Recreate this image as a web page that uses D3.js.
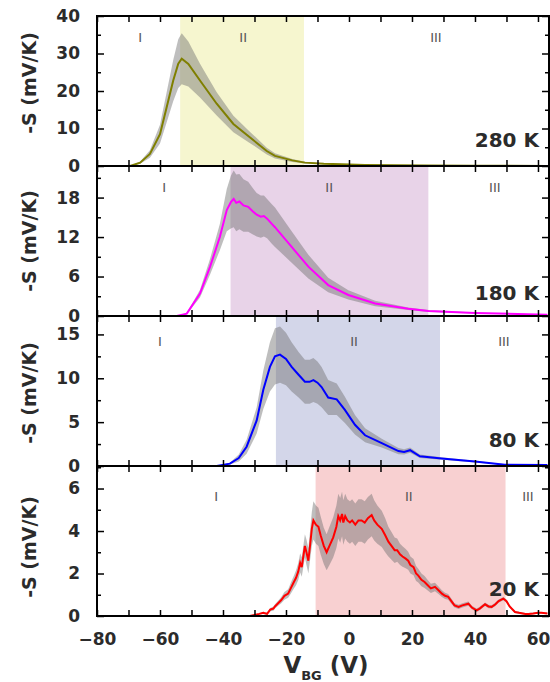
<!DOCTYPE html>
<html>
<head>
<meta charset="utf-8">
<script src="https://cdn.jsdelivr.net/npm/d3@7"></script>
<style>
body { margin: 0; background: #fff; }
text { font-family: "DejaVu Sans", sans-serif; }
</style>
</head>
<body>
<svg width="550" height="682"></svg>
<script>
// ---- data ----
var temps = ["280 K", "180 K", "80 K", "20 K"];
var xTickLabels = [-80, -60, -40, -20, 0, 20, 40, 60];
var yMax = [40, 22.8, 17.1, 7.06];
var yMajor = [[0, 10, 20, 30, 40], [0, 6, 12, 18], [0, 5, 10, 15], [0, 2, 4, 6]];
var yMinorStep = [5, 3, 2.5, 1];
var regionII = [[-53.6, -14.3], [-37.6, 25.2], [-23.2, 28.9], [-10.6, 49.7]];
// V positions of region labels I, II, III
var regionLabelV = [[-66.3, -33.6, 27.6], [-58.7, -6.3, 46.3], [-60, 1.6, 49.2], [-42.2, 19, 56.8]];

var v280 = [-69.5,-66.3,-63.2,-60,-57.9,-55.8,-54.2,-53.1,-51,-47.3,-42,-36.7,-31.4,-26.1,-23.5,-18,-14,-8,-2.3,5,15,25,40,63];
var s280 = [0,0.9,3.2,8.5,15.6,22.8,27.3,28.6,27.2,22.8,16.6,11.2,7.6,4.0,2.7,1.5,0.9,0.6,0.45,0.3,0.2,0.12,0.05,0.02];
var e280 = [0,0.3,1.0,2.5,4.0,5.5,6.5,6.8,6.0,4.5,3.1,2.2,1.5,0.9,0.7,0.4,0.25,0.15,0.1,0.08,0.05,0.03,0.01,0];

var v180 = [-54.7,-51.5,-47.3,-44.1,-41,-38.8,-37.5,-36.6,-35.8,-34.8,-33.5,-32,-30.5,-29.3,-28,-27,-26,-24.5,-23.5,-18.2,-12.9,-6.6,-0.2,8.3,18.8,25.2,40,63];
var s180 = [0,0.36,3.4,7.5,12,16.1,17.3,17.8,17.2,17.4,16.8,16.6,15.9,15.4,15.1,15.2,14.8,14.0,13.5,10.5,7.5,4.7,3.2,1.9,1.1,0.76,0.45,0.2];
var e180 = [0,0.1,0.6,1.2,2.0,3.2,4.0,4.3,4.3,4.2,4.0,3.8,3.5,3.3,3.2,3.1,3.0,3.0,3.0,2.4,1.8,1.1,0.7,0.4,0.2,0.15,0.08,0.03];

var v80 = [-42,-37.8,-35,-32.5,-29.3,-27.2,-25.1,-23.5,-21.9,-20,-18.2,-16,-14,-12.5,-11.3,-10,-8.7,-6.6,-3.9,-1.3,1.9,5.1,10.4,15.7,17.5,19.4,22.5,29.4,40,49.5,63];
var s80 = [0,0.27,0.9,2.2,5.2,8.7,11.3,12.5,12.7,12.2,11.3,10.4,9.6,9.6,9.8,9.5,9.0,7.8,7.6,6.4,4.7,3.5,2.6,1.7,1.6,1.8,1.1,0.85,0.5,0.15,0.1];
var e80 = [0,0.1,0.4,0.8,1.5,2.2,2.8,3.2,3.2,3.0,2.8,2.6,2.5,2.5,2.5,2.4,2.3,2.0,1.8,1.5,1.1,0.8,0.5,0.35,0.3,0.3,0.2,0.15,0.1,0.05,0];

var v20 = [-31.5,-30,-28.5,-27.2,-26,-25,-24,-23.5,-22.5,-21.5,
  -20.5,-19.3,-18.5,-17.5,-16.8,-16.1,-15.5,-15,-14.5,-14,
  -13.5,-12.9,-12.3,-11.8,-11.3,-10.5,-9.7,-9,-8,-7.1,
  -6.2,-5,-4,-3.4,-2.8,-2.2,-1.8,-1.2,-0.5,0.3,
  1,2,3,4,5,6,7.2,8,9,10.4,
  11.5,12.5,13.5,14.5,15.3,16.2,17,18,18.8,19.5,
  20.5,21.3,22,23,24,25,26,27.3,28.5,29.5,
  30.5,31.5,32.5,33.5,34.8,36,37.9,39,40.5,41.5,
  43.2,44.3,45.3,46.5,47.5,49,50,51,52.7,54,
  56,57,58.5,60,61.1,63];
var s20 = [0,0.05,0.1,0.15,0.1,0.3,0.35,0.45,0.6,0.75,
  0.95,1.06,1.3,1.6,1.8,2.1,2.5,2.3,2.8,3.3,
  3.0,2.6,3.4,4.1,4.5,4.3,4.2,3.8,3.3,3.0,
  3.3,3.7,4.2,4.7,4.5,4.8,4.4,4.7,4.5,4.4,
  4.5,4.3,4.5,4.5,4.4,4.6,4.75,4.5,4.3,4.1,
  3.8,3.5,3.3,3.1,3.1,2.9,2.8,2.7,2.6,2.4,
  2.3,2.0,1.9,1.7,1.6,1.45,1.3,1.37,1.2,1.05,
  0.95,0.9,0.7,0.5,0.43,0.5,0.58,0.4,0.27,0.35,
  0.55,0.45,0.43,0.55,0.7,0.82,0.7,0.45,0.19,0.15,
  0.1,0.1,0.12,0.15,0.15,0.12];
var e20 = [0,0.02,0.03,0.05,0.05,0.08,0.1,0.1,0.12,0.15,
  0.18,0.2,0.25,0.3,0.35,0.4,0.45,0.45,0.5,0.55,
  0.6,0.6,0.7,0.8,0.9,0.9,0.9,0.9,0.85,0.85,
  0.9,0.95,1.0,1.05,1.05,1.05,1.05,1.05,1.0,1.0,
  1.0,1.0,1.0,1.0,1.0,1.0,1.0,0.95,0.9,0.85,
  0.8,0.7,0.65,0.6,0.55,0.5,0.48,0.45,0.42,0.4,
  0.38,0.35,0.32,0.3,0.28,0.25,0.22,0.2,0.18,0.16,
  0.15,0.14,0.12,0.1,0.1,0.1,0.1,0.08,0.08,0.08,
  0.08,0.08,0.08,0.08,0.08,0.08,0.08,0.06,0.05,0.05,
  0.04,0.04,0.04,0.04,0.04,0.04];

var volts = [v280, v180, v80, v20];
var seebeck = [s280, s180, s80, s20];
var errs = [e280, e180, e80, e20];

// ---- styles / layout ----
var lineColors = ["#7f7f00", "#ff00ff", "#0000ff", "#ff0000"];
var regionColors = ["#f6f6cf", "#e8d3e8", "#d3d6e9", "#f8d0d1"];
var panelTop = [16, 166, 316, 466];
var panelH = 150;
var titleY = [83, 241, 393, 547];
var regionLabelDy = [22, 22, 26, 31];

var svg = d3.select("svg");
var x = d3.scaleLinear().domain([-80, 63.5]).range([97, 549]);

temps.forEach(function(t, i) {
    var top = panelTop[i], bot = top + panelH;
    var y = d3.scaleLinear().domain([0, yMax[i]]).range([bot, top]);
    var g = svg.append("g");

    g.append("clipPath").attr("id", "clip" + i)
        .append("rect").attr("x", x(-80)).attr("y", top)
        .attr("width", x(63.5) - x(-80)).attr("height", panelH);

    var plot = g.append("g").attr("clip-path", "url(#clip" + i + ")");

    plot.append("rect")
        .attr("x", x(regionII[i][0])).attr("y", top)
        .attr("width", x(regionII[i][1]) - x(regionII[i][0]))
        .attr("height", panelH)
        .style("fill", regionColors[i]);

    var pts = volts[i].map(function(v, k) { return {v: v, s: seebeck[i][k], e: errs[i][k]}; });

    plot.append("path").datum(pts)
        .attr("d", d3.area()
            .x(function(d) { return x(d.v); })
            .y0(function(d) { return y(Math.max(0, d.s - d.e)); })
            .y1(function(d) { return y(d.s + d.e); }))
        .style("fill", "#6e6e6e").style("opacity", 0.45);

    plot.append("path").datum(pts)
        .attr("d", d3.line()
            .x(function(d) { return x(d.v); })
            .y(function(d) { return y(d.s); }))
        .style("fill", "none").style("stroke", lineColors[i]).style("stroke-width", 2);

    // region labels
    ["I", "II", "III"].forEach(function(lab, k) {
        g.append("text")
            .attr("x", x(regionLabelV[i][k])).attr("y", top + regionLabelDy[i])
            .attr("text-anchor", "middle").attr("dominant-baseline", "middle")
            .style("font-size", "13px").style("fill", "#555")
            .text(lab);
    });

    // y ticks
    var minor = d3.range(0, yMax[i] + 0.001, yMinorStep[i]).filter(function(v) { return yMajor[i].indexOf(v) < 0; });
    g.append("g").attr("class", "axis").attr("transform", "translate(" + x(-80) + ",0)")
        .call(d3.axisLeft(y).tickValues(yMajor[i]).tickSize(-7).tickPadding(17).tickFormat(d3.format("d")));
    g.append("g").attr("class", "axis").attr("transform", "translate(" + x(-80) + ",0)")
        .call(d3.axisLeft(y).tickValues(minor).tickSize(-4).tickFormat(""));
    g.append("g").attr("class", "axis").attr("transform", "translate(" + x(63.5) + ",0)")
        .call(d3.axisRight(y).tickValues(yMajor[i]).tickSize(-7).tickFormat(""));
    g.append("g").attr("class", "axis").attr("transform", "translate(" + x(63.5) + ",0)")
        .call(d3.axisRight(y).tickValues(minor).tickSize(-4).tickFormat(""));

    // x ticks, top and bottom, inward
    var xt = d3.range(-80, 61, 10);
    g.append("g").attr("class", "axis").attr("transform", "translate(0," + top + ")")
        .call(d3.axisTop(x).tickValues(xt).tickSize(-6).tickFormat(""));
    g.append("g").attr("class", "axis").attr("transform", "translate(0," + bot + ")")
        .call(d3.axisBottom(x).tickValues(xt).tickSize(-6).tickFormat(i === 3 ? d3.format("d") : ""))
        .call(function(a) {
            if (i === 3) {
                a.selectAll(".tick").filter(function(d) { return xTickLabels.indexOf(d) < 0; }).select("text").remove();
                a.selectAll(".tick text").attr("y", 17);
            }
        });

    // frame
    g.append("rect")
        .attr("x", x(-80)).attr("y", top)
        .attr("width", x(63.5) - x(-80)).attr("height", panelH)
        .style("fill", "none").style("stroke", "#000").style("stroke-width", 2);

    // temperature label
    g.append("text")
        .attr("x", 539).attr("y", [147, 300, 447, 596][i])
        .attr("text-anchor", "end")
        .style("font-size", "20px").style("font-weight", "bold").style("fill", "#2b2b2b")
        .text(t);

    // y title
    g.append("text")
        .attr("transform", "translate(36," + titleY[i] + ") rotate(-90)")
        .attr("text-anchor", "middle")
        .style("font-size", "19px").style("font-weight", "bold").style("fill", "#2b2b2b")
        .text("-S (mV/K)");
});

svg.selectAll(".axis .domain").remove();
svg.selectAll(".axis line").style("stroke", "#000").style("stroke-width", 1.5);
svg.selectAll(".axis text")
    .style("font-family", "'DejaVu Sans', sans-serif")
    .style("font-size", "17px").style("font-weight", "bold").style("fill", "#2b2b2b");

// x title
var xt = svg.append("text").attr("x", 326).attr("y", 673)
    .attr("text-anchor", "middle")
    .style("font-size", "23px").style("font-weight", "bold").style("fill", "#2b2b2b");
xt.append("tspan").text("V");
xt.append("tspan").attr("dy", 7).style("font-size", "13px").text("BG");
xt.append("tspan").attr("dy", -7).text(" (V)");
</script>
</body>
</html>
